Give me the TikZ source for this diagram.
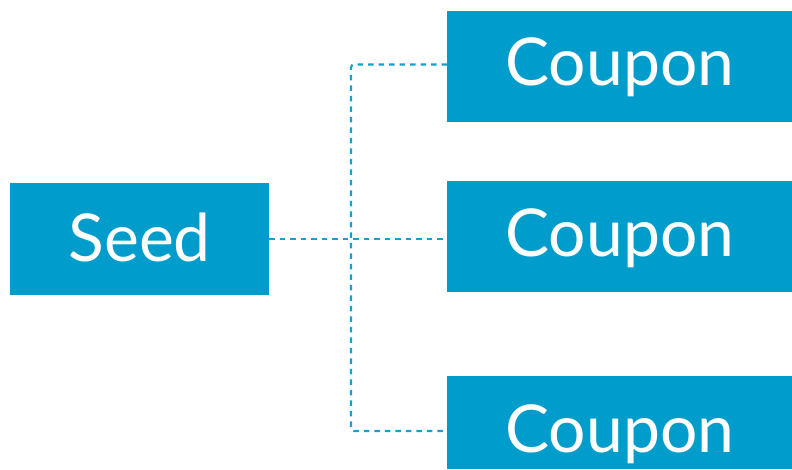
\documentclass[tikz,border=0pt]{standalone}
\usepackage{fontspec}
\setmainfont{Lato}
\definecolor{boxblue}{RGB}{0,157,204}
\definecolor{lineblue}{RGB}{20,160,208}
\begin{document}
\begin{tikzpicture}[x=1pt,y=-1pt,
  blockbox/.style={fill=boxblue,text=white,inner sep=0pt,anchor=north west,font=\fontsize{66}{70}\selectfont},
  conn/.style={draw=lineblue,line width=2.2pt,dash pattern=on 5.5pt off 5pt,rounded corners=3pt}]
\useasboundingbox (0,0) rectangle (792,469);
\node[blockbox,minimum width=259pt,text height=78pt,text depth=34pt] (seed) at (10,183) {Seed};
\node[blockbox,minimum width=345pt,text height=74pt,text depth=37pt] (c1) at (447,11) {Coupon};
\node[blockbox,minimum width=345pt,text height=75pt,text depth=36pt] (c2) at (447,181) {Coupon};
\node[blockbox,minimum width=345pt,text height=76pt,text depth=17pt] (c3) at (447,376) {Coupon};
\coordinate (jx) at (351,240);
\draw[conn] (seed.east) -- (seed.east -| c2.west);
\draw[conn] (c1.west |- 0,64.5) -| (jx) |- (c3.west |- 0,431);
\end{tikzpicture}
\end{document}
